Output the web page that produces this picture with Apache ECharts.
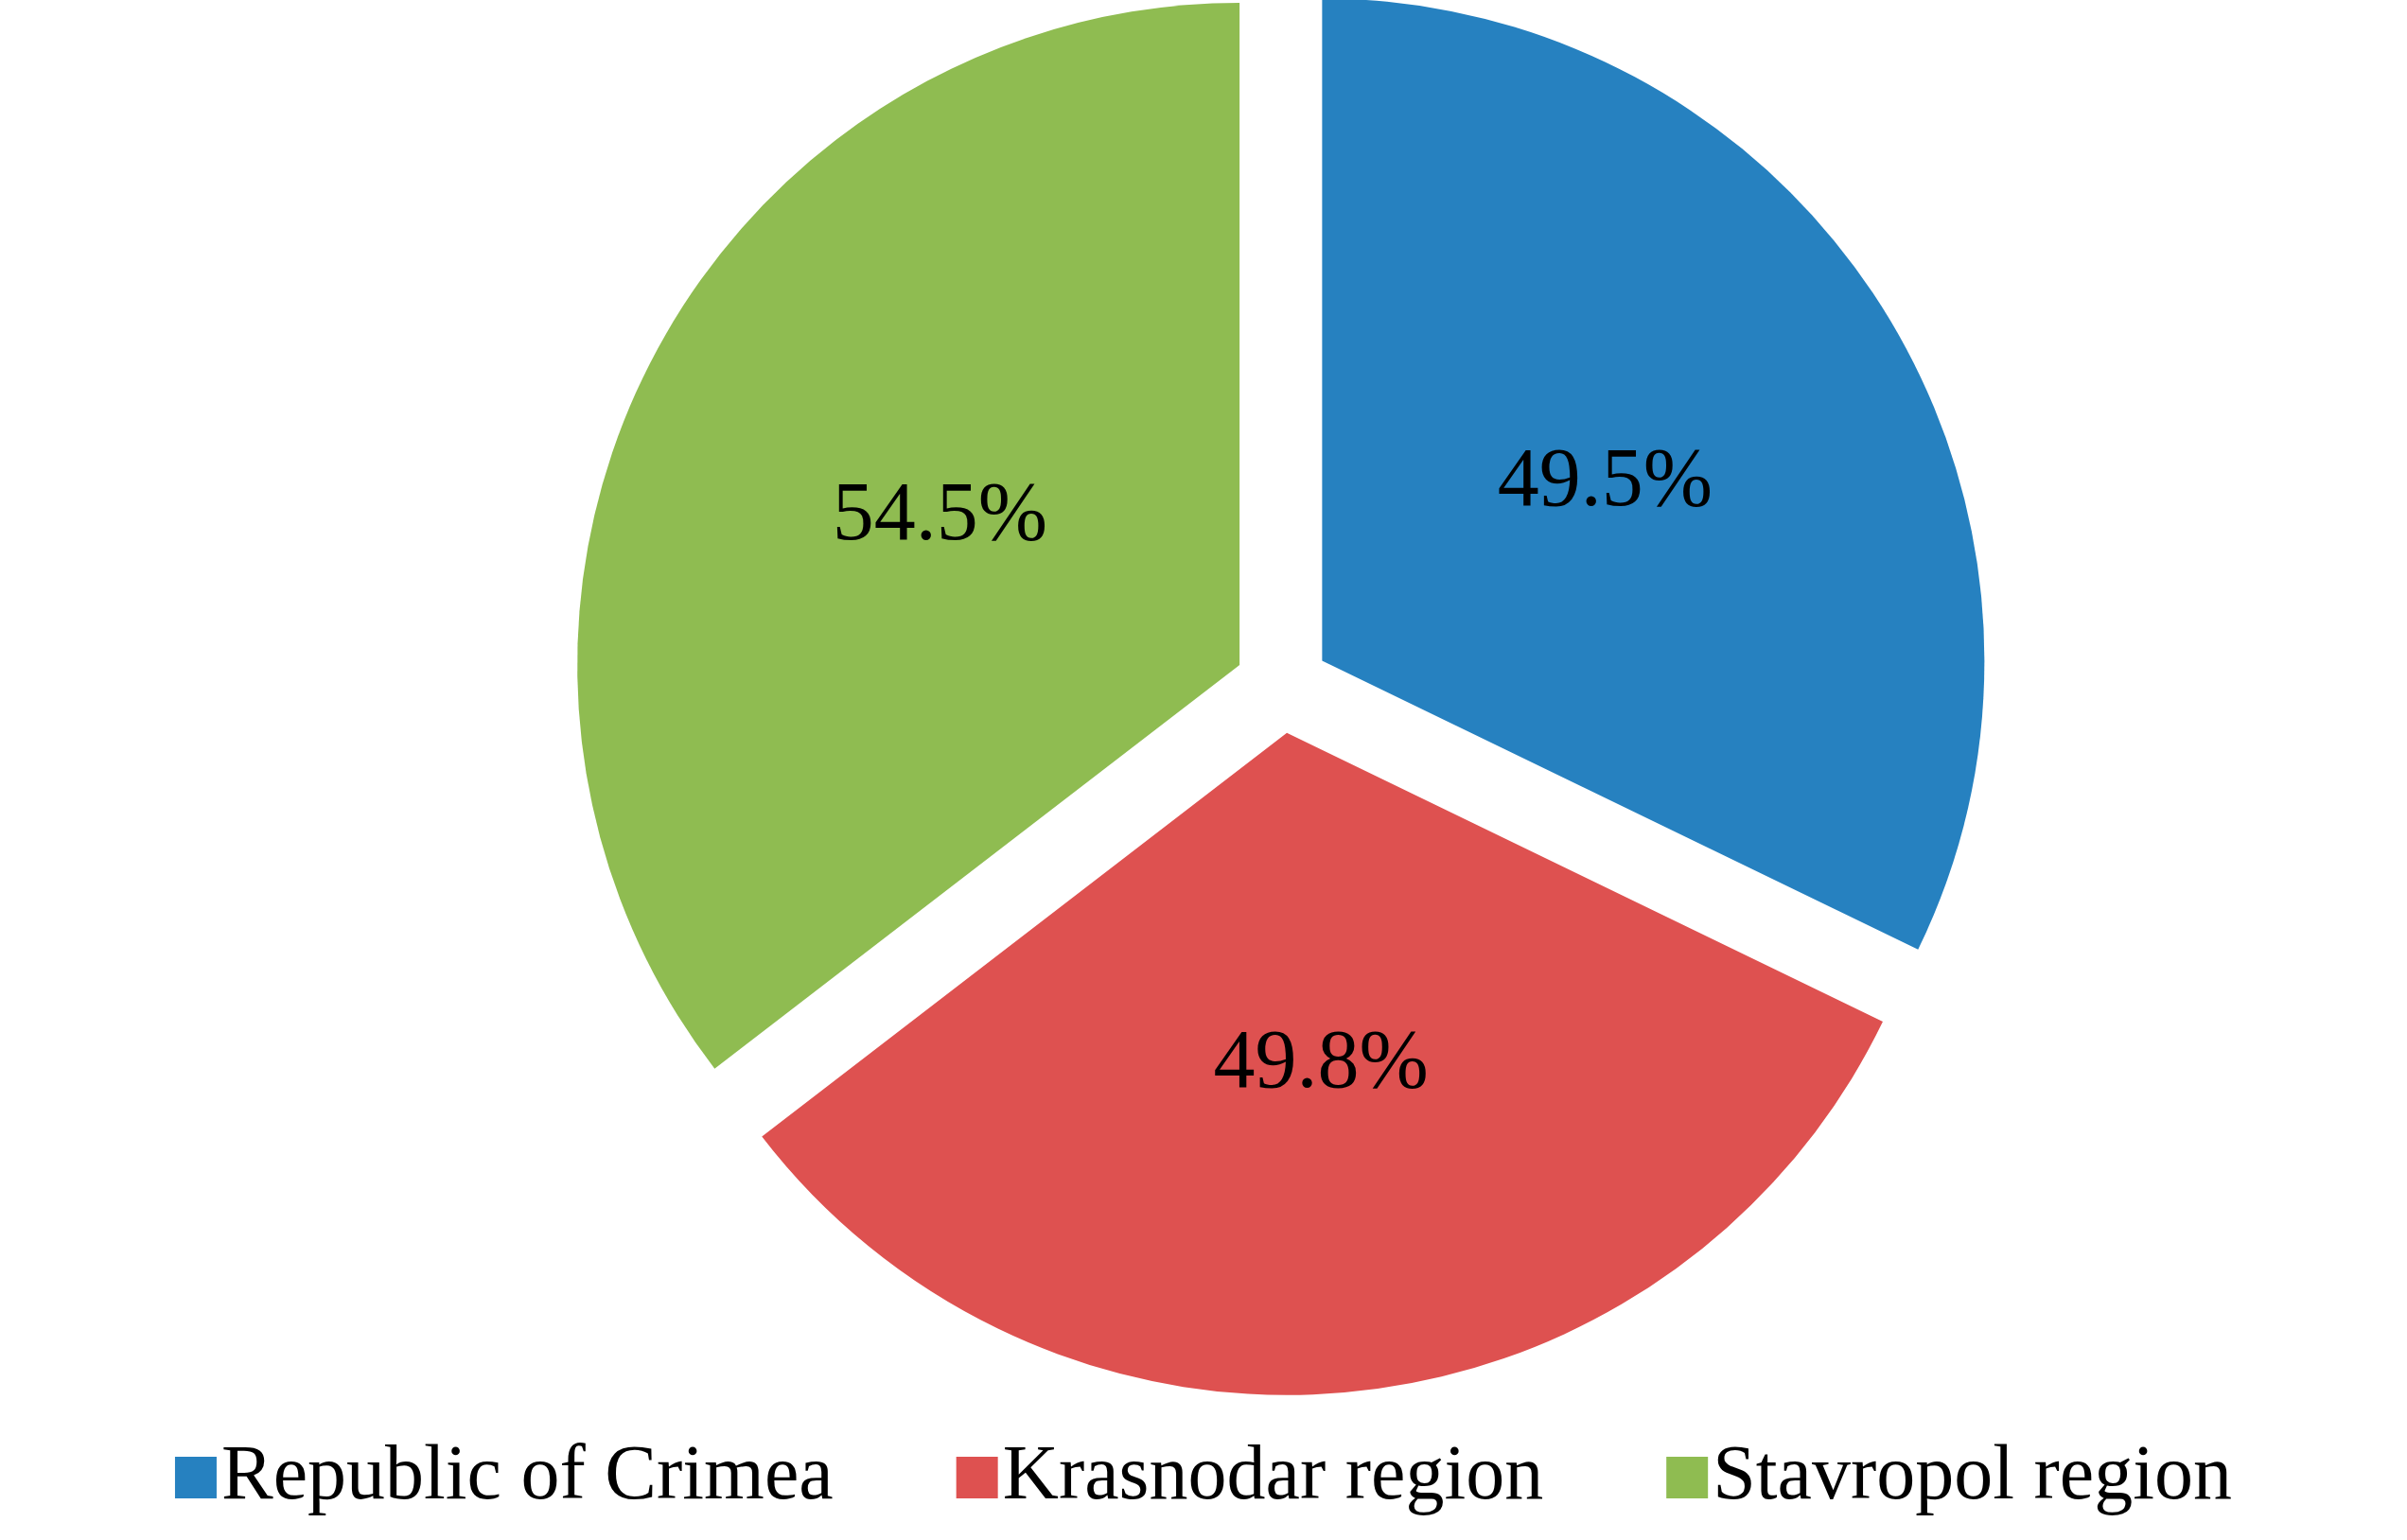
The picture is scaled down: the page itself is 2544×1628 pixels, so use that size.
<!DOCTYPE html>
<html>
<head>
<meta charset="utf-8">
<script src="https://cdn.jsdelivr.net/npm/echarts@6/dist/echarts.min.js"></script>
<style>html,body{margin:0;padding:0;background:#fff}#chart{width:2544px;height:1628px}</style>
</head>
<body>
<div id="chart"></div>
<script>
const regions = ['Republic of Crimea', 'Krasnodar region', 'Stavropol region'];
const shares = [49.5, 49.8, 54.5];
const colors = ['#2681C0', '#DE5150', '#8FBC51'];

const chart = echarts.init(document.getElementById('chart'));
chart.setOption({
    color: colors,
    textStyle: { fontFamily: 'Liberation Serif' },
    legend: {
        bottom: 20,
        left: 'center',
        icon: 'rect',
        itemWidth: 44,
        itemHeight: 44,
        itemGap: 130,
        textStyle: { fontSize: 82, color: '#000', fontFamily: 'Liberation Serif' },
        data: regions
    },
    series: [{
        type: 'pie',
        center: [1355, 725],
        radius: 700,
        startAngle: 90,
        selectedMode: 'multiple',
        selectedOffset: 50,
        animation: false,
        label: {
            position: 'inside',
            fontSize: 88,
            color: '#000',
            fontFamily: 'Liberation Serif',
            formatter: p => p.value.toFixed(1) + '%'
        },
        labelLine: { show: false },
        data: regions.map((r, i) => ({ name: r, value: shares[i], selected: true }))
    }]
});
</script>
</body>
</html>
